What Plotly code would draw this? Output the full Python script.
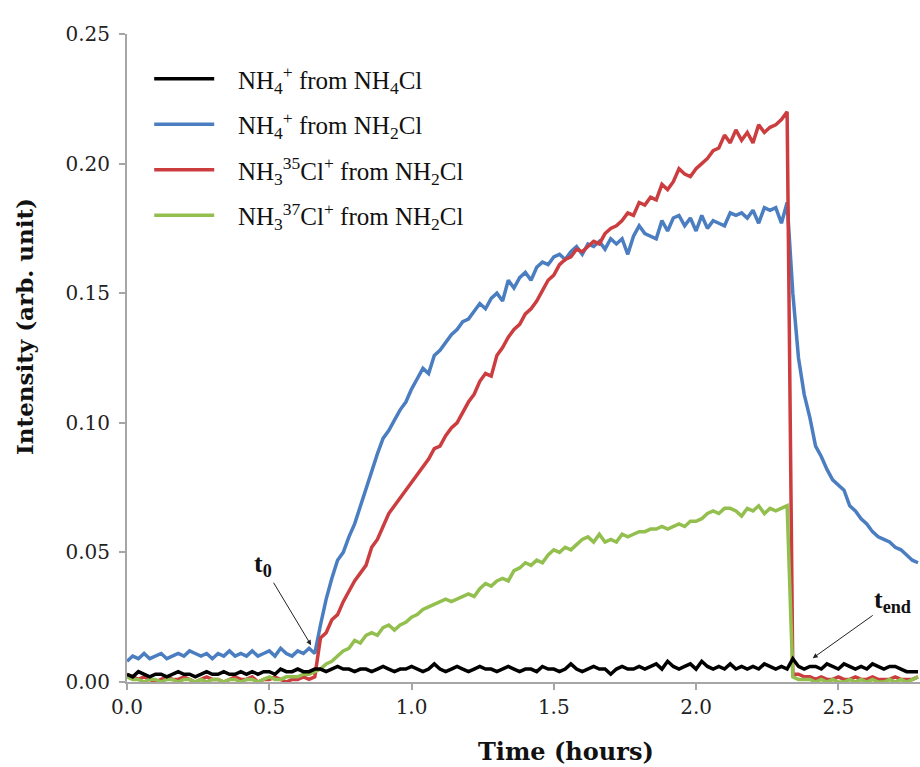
import numpy as np
import plotly.graph_objects as go

# time axis (hours), sampled every 0.02 h
time_h = np.round(np.arange(140) * 0.02, 2)

nh4_from_nh4cl = [
    0.003, 0.002, 0.004, 0.003, 0.002, 0.003, 0.003, 0.002, 0.003, 0.004,
    0.003, 0.003, 0.002, 0.003, 0.004, 0.003, 0.003, 0.004, 0.003, 0.003,
    0.004, 0.003, 0.004, 0.003, 0.004, 0.004, 0.003, 0.005, 0.004, 0.004,
    0.005, 0.004, 0.004, 0.005, 0.005, 0.004, 0.005, 0.006, 0.005, 0.005,
    0.004, 0.005, 0.005, 0.004, 0.005, 0.006, 0.005, 0.004, 0.005, 0.005,
    0.006, 0.005, 0.004, 0.005, 0.007, 0.005, 0.004, 0.005, 0.006, 0.005,
    0.004, 0.005, 0.006, 0.005, 0.005, 0.004, 0.005, 0.006, 0.005, 0.004,
    0.005, 0.005, 0.004, 0.006, 0.005, 0.005, 0.004, 0.005, 0.007, 0.005,
    0.004, 0.005, 0.006, 0.005, 0.005, 0.003, 0.005, 0.006, 0.005, 0.005,
    0.006, 0.005, 0.006, 0.007, 0.005, 0.008, 0.006, 0.005, 0.006, 0.007,
    0.005, 0.008, 0.006, 0.005, 0.006, 0.005, 0.007, 0.005, 0.006, 0.005,
    0.006, 0.005, 0.007, 0.006, 0.005, 0.006, 0.005, 0.009, 0.006, 0.005,
    0.006, 0.006, 0.005, 0.007, 0.006, 0.005, 0.007, 0.006, 0.005, 0.006,
    0.005, 0.007, 0.006, 0.005, 0.006, 0.006, 0.005, 0.004, 0.004, 0.004,
]

nh4_from_nh2cl = [
    0.008, 0.010, 0.009, 0.011, 0.009, 0.010, 0.011, 0.009, 0.010, 0.011,
    0.010, 0.012, 0.011, 0.010, 0.011, 0.009, 0.011, 0.010, 0.012, 0.010,
    0.011, 0.010, 0.012, 0.010, 0.011, 0.012, 0.010, 0.013, 0.011, 0.010,
    0.012, 0.011, 0.013, 0.011, 0.022, 0.032, 0.040, 0.047, 0.050, 0.056,
    0.061, 0.068, 0.075, 0.082, 0.088, 0.094, 0.097, 0.101, 0.105, 0.108,
    0.113, 0.117, 0.121, 0.119, 0.126, 0.128, 0.131, 0.134, 0.136, 0.139,
    0.140, 0.143, 0.146, 0.144, 0.148, 0.150, 0.147, 0.155, 0.152, 0.156,
    0.158, 0.155, 0.160, 0.162, 0.161, 0.164, 0.165, 0.163, 0.166, 0.168,
    0.165, 0.169, 0.168, 0.170, 0.167, 0.171, 0.169, 0.171, 0.165, 0.172,
    0.176, 0.173, 0.172, 0.171, 0.178, 0.174, 0.179, 0.180, 0.176, 0.179,
    0.174, 0.180, 0.175, 0.178, 0.177, 0.176, 0.181, 0.180, 0.181, 0.179,
    0.182, 0.177, 0.183, 0.182, 0.183, 0.177, 0.185, 0.150, 0.125, 0.111,
    0.102, 0.091, 0.087, 0.082, 0.078, 0.076, 0.074, 0.068, 0.066, 0.063,
    0.061, 0.058, 0.056, 0.055, 0.054, 0.052, 0.051, 0.049, 0.047, 0.046,
]

nh3_35cl_from_nh2cl = [
    0.003, 0.002, 0.001, 0.002, 0.001, 0.000, 0.001, 0.002, 0.001, 0.001,
    0.002, 0.001, 0.000, 0.001, 0.002, 0.001, 0.001, 0.000, 0.001, 0.002,
    0.001, 0.001, 0.002, 0.000, 0.001, 0.001, 0.002, 0.001, 0.000, 0.001,
    0.001, 0.002, 0.001, 0.002, 0.017, 0.019, 0.024, 0.026, 0.031, 0.035,
    0.039, 0.042, 0.045, 0.052, 0.055, 0.060, 0.065, 0.068, 0.071, 0.074,
    0.077, 0.080, 0.083, 0.086, 0.090, 0.091, 0.095, 0.098, 0.100, 0.104,
    0.108, 0.111, 0.116, 0.119, 0.118, 0.126, 0.129, 0.133, 0.136, 0.138,
    0.142, 0.144, 0.147, 0.151, 0.155, 0.157, 0.161, 0.163, 0.164, 0.167,
    0.166, 0.168, 0.170, 0.169, 0.173, 0.175, 0.176, 0.178, 0.181, 0.180,
    0.185, 0.184, 0.187, 0.186, 0.192, 0.190, 0.193, 0.198, 0.196, 0.195,
    0.198, 0.200, 0.202, 0.205, 0.206, 0.211, 0.208, 0.213, 0.209, 0.212,
    0.208, 0.215, 0.212, 0.214, 0.215, 0.217, 0.220, 0.003, 0.003, 0.002,
    0.002, 0.001, 0.002, 0.001, 0.001, 0.002, 0.001, 0.001, 0.002, 0.001,
    0.001, 0.002, 0.001, 0.001, 0.001, 0.002, 0.001, 0.001, 0.001, 0.002,
]

nh3_37cl_from_nh2cl = [
    0.002, 0.001, 0.001, 0.000, 0.001, 0.001, 0.000, 0.001, 0.001, 0.000,
    0.001, 0.001, 0.000, 0.001, 0.000, 0.001, 0.001, 0.000, 0.001, 0.001,
    0.000, 0.001, 0.001, 0.000, 0.001, 0.002, 0.001, 0.001, 0.002, 0.002,
    0.002, 0.003, 0.003, 0.004, 0.005, 0.007, 0.008, 0.010, 0.012, 0.013,
    0.016, 0.015, 0.018, 0.019, 0.018, 0.021, 0.022, 0.020, 0.022, 0.023,
    0.025, 0.026, 0.028, 0.029, 0.030, 0.031, 0.032, 0.031, 0.032, 0.033,
    0.034, 0.033, 0.036, 0.038, 0.037, 0.039, 0.040, 0.039, 0.043, 0.044,
    0.046, 0.045, 0.047, 0.046, 0.049, 0.051, 0.050, 0.052, 0.051, 0.053,
    0.055, 0.056, 0.054, 0.057, 0.054, 0.055, 0.054, 0.057, 0.056, 0.057,
    0.058, 0.058, 0.059, 0.059, 0.060, 0.059, 0.060, 0.061, 0.060, 0.062,
    0.062, 0.063, 0.065, 0.066, 0.065, 0.067, 0.067, 0.066, 0.064, 0.067,
    0.066, 0.068, 0.065, 0.067, 0.066, 0.067, 0.068, 0.002, 0.001, 0.001,
    0.001, 0.000, 0.001, 0.000, 0.001, 0.000, 0.000, 0.001, 0.000, 0.001,
    0.000, 0.001, 0.000, 0.000, 0.001, 0.000, 0.001, 0.000, 0.001, 0.002,
]

y_ticks = [0.00, 0.05, 0.10, 0.15, 0.20, 0.25]
x_ticks = [0.0, 0.5, 1.0, 1.5, 2.0, 2.5]

GAP = "\u2002\u00a0"
series = [
    # (values, name, color, legend rank) in drawing order
    (nh4_from_nh2cl, GAP + "NH<sub>4</sub><sup>+</sup> from NH<sub>2</sub>Cl", "#4a7ec1", 2),
    (nh3_35cl_from_nh2cl, GAP + "NH<sub>3</sub><sup>35</sup>Cl<sup>+</sup> from NH<sub>2</sub>Cl", "#cc3d3f", 3),
    (nh3_37cl_from_nh2cl, GAP + "NH<sub>3</sub><sup>37</sup>Cl<sup>+</sup> from NH<sub>2</sub>Cl", "#93bf4f", 4),
    (nh4_from_nh4cl, GAP + "NH<sub>4</sub><sup>+</sup> from NH<sub>4</sub>Cl", "#000000", 1),
]

fig = go.Figure()
for vals, name, color, rank in series:
    fig.add_trace(go.Scatter(
        x=time_h, y=vals, mode="lines", name=name,
        line=dict(color=color, width=3.5),
        legendrank=rank, legendgroup=str(rank),
    ))

serif = "DejaVu Serif"
fig.update_layout(
    width=920, height=767,
    margin=dict(l=127, r=0, t=34, b=85),
    paper_bgcolor="white", plot_bgcolor="white",
    showlegend=True,
    legend=dict(
        x=0.028, y=0.966, xanchor="left", yanchor="top",
        font=dict(family="Liberation Serif", size=25, color="#111111"),
        bgcolor="rgba(0,0,0,0)", tracegroupgap=10, itemwidth=60,
    ),
    xaxis=dict(
        range=[0, 2.787], tickvals=x_ticks, tickformat=".1f",
        showgrid=False, zeroline=False, showline=True,
        linecolor="#a6a6a6", linewidth=2, ticks="outside", ticklen=6,
        tickcolor="#a6a6a6", tickwidth=2,
        tickfont=dict(family=serif, size=20, color="#222222"),
    ),
    yaxis=dict(
        range=[0, 0.25], tickvals=y_ticks, tickformat=".2f",
        showgrid=False, zeroline=False, showline=True,
        linecolor="#a6a6a6", linewidth=2, ticks="outside", ticklen=6,
        tickcolor="#a6a6a6", tickwidth=2, ticklabelstandoff=5,
        tickfont=dict(family=serif, size=20, color="#222222"),
    ),
    annotations=[
        dict(x=0.5536, y=-0.108, xref="paper", yref="paper",
             xanchor="center", yanchor="middle", showarrow=False,
             text="<b>Time (hours)</b>",
             font=dict(family=serif, size=24, color="#111111")),
        dict(x=-0.1286, y=0.548, xref="paper", yref="paper",
             xanchor="center", yanchor="middle", showarrow=False,
             textangle=-90, text="<b>Intensity (arb. unit)</b>",
             font=dict(family=serif, size=23, color="#111111")),
        dict(x=0.647, y=0.0142, xref="x", yref="y", ax=-48, ay=-80,
             text="<b>t<sub>0</sub></b>", showarrow=True,
             arrowhead=2, arrowsize=1, arrowwidth=1, arrowcolor="#222222",
             font=dict(family="Liberation Serif", size=26, color="#111111")),
        dict(x=2.410, y=0.0092, xref="x", yref="y", ax=80, ay=-57,
             text="<b>t<sub>end</sub></b>", showarrow=True,
             arrowhead=2, arrowsize=1, arrowwidth=1, arrowcolor="#222222",
             font=dict(family="Liberation Serif", size=26, color="#111111")),
    ],
)

fig.write_html("out.html", config={"displayModeBar": False},
               post_script="document.body.style.margin='0';")
